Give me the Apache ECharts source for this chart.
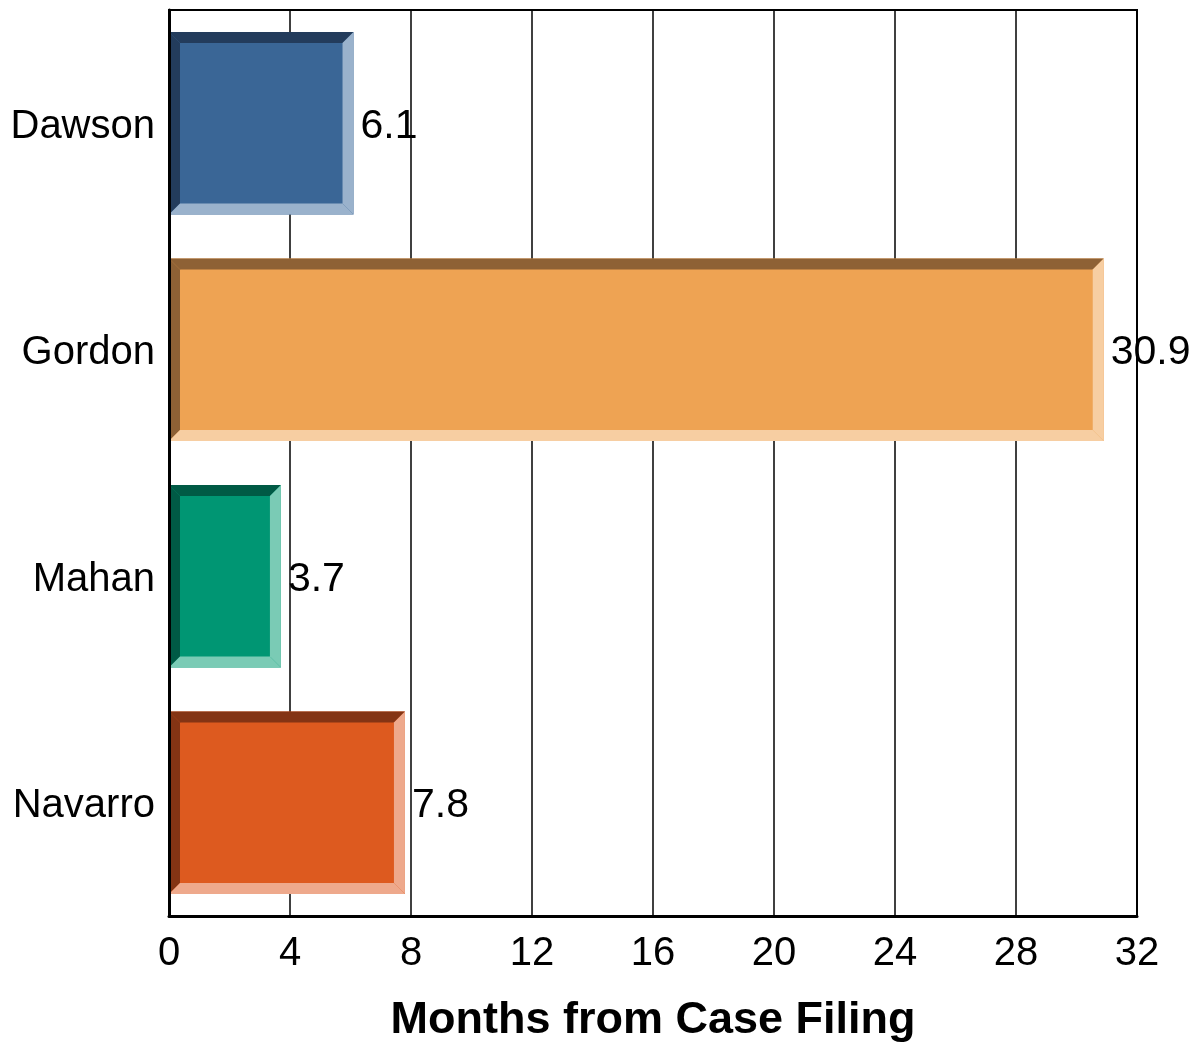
<!DOCTYPE html>
<html>
<head>
<meta charset="utf-8">
<script src="https://cdn.jsdelivr.net/npm/echarts@6/dist/echarts.min.js"></script>
<style>
html,body{margin:0;padding:0;background:#fff;}
#chart{width:1200px;height:1045px;}
</style>
</head>
<body>
<div id="chart"></div>
<script>
// ---- data ----
var categories = ['Dawson', 'Gordon', 'Mahan', 'Navarro'];
var values = [6.1, 30.9, 3.7, 7.8];
var xTicks = { min: 0, max: 32, interval: 4 };
var axisTitle = 'Months from Case Filing';

// ---- styles ----
var mainColors  = ['#3A6696', '#EEA353', '#009673', '#DD5A1F'];
var darkColors  = ['#233C5C', '#8E6135', '#005A45', '#843414'];
var lightColors = ['#9AB2CC', '#F7CEA2', '#7ACBB5', '#EEA98C'];
var FONT = "'Liberation Sans', Arial, sans-serif";

var chart = echarts.init(document.getElementById('chart'), null, {renderer: 'canvas'});

function renderItem(params, api) {
  var idx = api.value(0);
  var val = api.value(1);
  var start = api.coord([0, idx]);
  var end = api.coord([val, idx]);
  var band = api.size([0, 1])[1];
  var h = band * 0.806;
  var x0 = start[0], x1 = end[0];
  var y0 = start[1] - h / 2, y1 = start[1] + h / 2;
  var b = 11;
  var i = params.dataIndex;
  return {
    type: 'group',
    children: [
      {type: 'rect', shape: {x: x0, y: y0, width: x1 - x0, height: y1 - y0}, style: {fill: mainColors[i]}},
      {type: 'polygon', shape: {points: [[x0, y0], [x1, y0], [x1 - b, y0 + b], [x0 + b, y0 + b]]}, style: {fill: darkColors[i]}},
      {type: 'polygon', shape: {points: [[x0, y0], [x0 + b, y0 + b], [x0 + b, y1 - b], [x0, y1]]}, style: {fill: darkColors[i]}},
      {type: 'polygon', shape: {points: [[x1, y0], [x1, y1], [x1 - b, y1 - b], [x1 - b, y0 + b]]}, style: {fill: lightColors[i]}},
      {type: 'polygon', shape: {points: [[x0, y1], [x1, y1], [x1 - b, y1 - b], [x0 + b, y1 - b]]}, style: {fill: lightColors[i]}},
      {type: 'text', style: {x: x1 + 7, y: start[1] + 3, text: String(val), fill: '#000', font: '41px ' + FONT, verticalAlign: 'middle', align: 'left'}, z2: 10}
    ]
  };
}

var option = {
  backgroundColor: '#fff',
  animation: false,
  grid: {left: 169, right: 63, top: 10, bottom: 129, outerBoundsMode: 'none', containLabel: false,
         show: true, borderColor: '#000', borderWidth: 2, backgroundColor: 'transparent'},
  xAxis: {
    type: 'value',
    min: xTicks.min, max: xTicks.max, interval: xTicks.interval,
    name: axisTitle,
    nameLocation: 'middle',
    nameGap: 82,
    nameTextStyle: {fontSize: 45, fontWeight: 'bold', color: '#000', fontFamily: FONT},
    axisLine: {show: true, lineStyle: {color: '#000', width: 3}},
    axisTick: {show: false},
    axisLabel: {fontSize: 40, color: '#000', fontFamily: FONT, margin: 18},
    splitLine: {show: true, lineStyle: {color: '#000', width: 1.5}},
    z: 1
  },
  yAxis: {
    type: 'category',
    data: categories,
    inverse: true,
    axisLine: {show: true, lineStyle: {color: '#000', width: 3}},
    axisTick: {show: false},
    axisLabel: {
      fontSize: 40, color: '#000', fontFamily: FONT, margin: 14,
      formatter: function (v) { return '{c|' + v + '}'; },
      rich: {c: {fontSize: 40, color: '#000', fontFamily: FONT, padding: [7, 0, 0, 0]}}
    },
    splitLine: {show: false},
    z: 10
  },
  series: [{
    type: 'custom',
    renderItem: renderItem,
    encode: {x: 1, y: 0},
    data: values.map(function (v, i) { return [i, v]; }),
    z: 5
  }]
};
chart.setOption(option);
</script>
</body>
</html>
